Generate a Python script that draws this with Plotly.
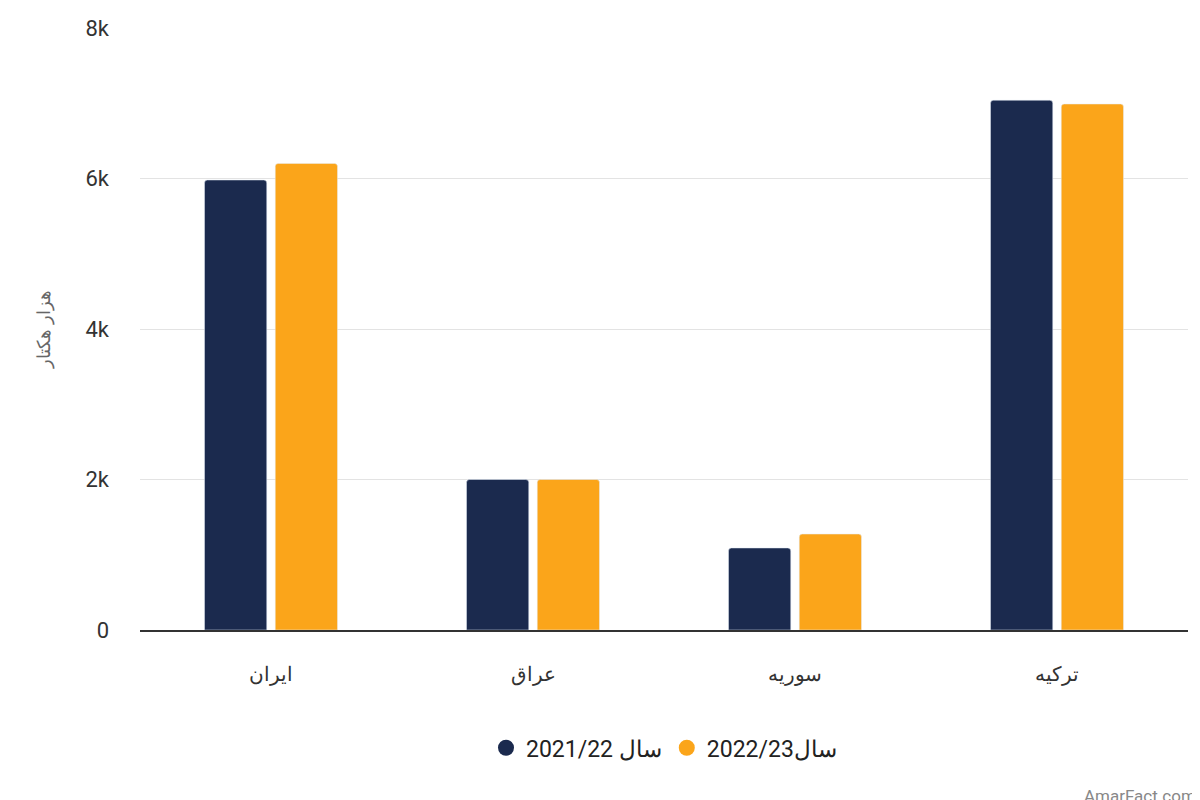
import plotly.graph_objects as go

categories = ["ایران", "عراق", "سوریه", "ترکیه"]
series_names = ["سال 2021/22", "سال2022/23"]
values_2021 = [5980, 2000, 1090, 7040]
values_2022 = [6200, 2000, 1275, 6990]
colors = ["#1b2a4e", "#fba51a"]

fig = go.Figure()
for name, vals, c in zip(series_names, [values_2021, values_2022], colors):
    fig.add_trace(go.Bar(x=categories, y=vals, marker_color=c, name=name,
                         showlegend=False, marker_cornerradius=3))
for name, c in zip(series_names, colors):
    fig.add_trace(go.Scatter(x=[None], y=[None], mode="markers", name=name,
                             marker=dict(color=c, size=30, symbol="circle")))

fig.update_layout(
    width=1200, height=800, plot_bgcolor="white", paper_bgcolor="white",
    font=dict(family="Roboto, Noto Sans", size=20, color="#333"),
    margin=dict(l=132, r=20, t=20, b=178),
    barmode="group", bargap=0.46, bargroupgap=0.12,
    legend=dict(orientation="h", x=0.5, xanchor="center", y=-0.16, yanchor="top",
                font=dict(size=23, color="#222"), itemsizing="trace"),
    yaxis=dict(range=[0, 8000], tickvals=[0, 2000, 4000, 6000, 8000],
               ticktext=["0", "2k", "4k", "6k", "8k"], gridcolor="#e3e3e3",
               ticks="", ticklabelstandoff=30, zeroline=False, automargin=False,
               tickfont=dict(size=22, color="#333"),
               title=dict(text="هزار هکتار", font=dict(size=18, color="#666"), standoff=30)),
    xaxis=dict(showline=True, linecolor="#333", linewidth=1.5, ticks="", automargin=False,
               tickfont=dict(size=20, color="#333"), ticklabelstandoff=25),
)
fig.add_annotation(text="AmarFact.com", xref="paper", yref="paper", x=1.01, y=-0.255,
                   xanchor="right", yanchor="top", showarrow=False,
                   font=dict(size=17, color="#888"))
fig.write_html("out.html")
